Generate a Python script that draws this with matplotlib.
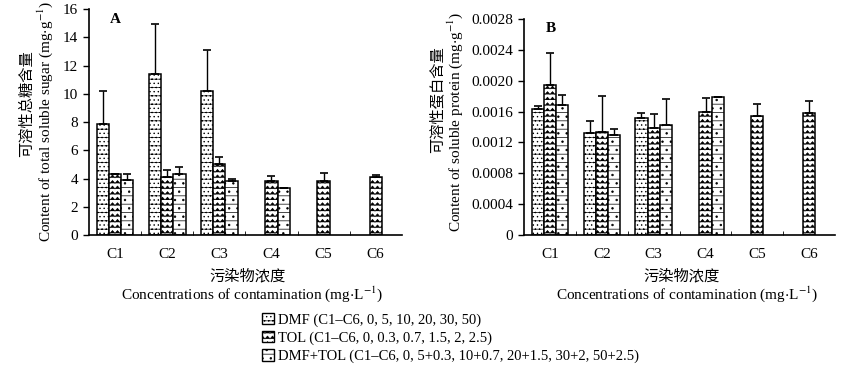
import numpy as np
import matplotlib
matplotlib.use("Agg")
import matplotlib.pyplot as plt
from matplotlib import hatch as mhatch
from matplotlib.path import Path
from matplotlib.patches import Patch
import warnings

warnings.filterwarnings("ignore")

# data (nan = no bar)
categories = ["C1", "C2", "C3", "C4", "C5", "C6"]
series = ["DMF (C1\u2013C6, 0, 5, 10, 20, 30, 50)",
          "TOL (C1\u2013C6, 0, 0.3, 0.7, 1.5, 2, 2.5)",
          "DMF+TOL (C1\u2013C6, 0, 5+0.3, 10+0.7, 20+1.5, 30+2, 50+2.5)"]
nan = np.nan

sugar_dmf = [7.83, 11.40, 10.19, nan, nan, nan]
sugar_dmf_err = [2.34, 3.54, 2.91, nan, nan, nan]
sugar_tol = [4.29, 4.13, 5.03, 3.80, 3.82, 4.10]
sugar_tol_err = [0.02, 0.50, 0.47, 0.35, 0.55, 0.18]
sugar_mix = [3.89, 4.29, 3.80, 3.35, nan, nan]
sugar_mix_err = [0.40, 0.52, 0.16, 0.0, nan, nan]

protein_dmf = [0.00163, 0.00132, 0.00152, nan, nan, nan]
protein_dmf_err = [0.00004, 0.00016, 0.00006, nan, nan, nan]
protein_tol = [0.00194, 0.00133, 0.00139, 0.00160, 0.00154, 0.00158]
protein_tol_err = [0.00042, 0.00047, 0.00018, 0.00018, 0.00016, 0.00016]
protein_mix = [0.00169, 0.00129, 0.00142, 0.00179, nan, nan]
protein_mix_err = [0.00013, 0.00008, 0.00034, 0.0, nan, nan]


# wavy (zigzag) hatch for the TOL bars
class ZigzagHatch(mhatch.HatchPatternBase):
    def __init__(self, hatch, density):
        self.num_rows = int(hatch.count('z') * density)
        self.num_pts = 41
        self.num_vertices = self.num_rows * self.num_pts

    def set_vertices_and_codes(self, vertices, codes):
        if self.num_rows == 0:
            return
        step = 1.0 / self.num_rows
        xs = np.linspace(0, 1, self.num_pts)
        ofs = np.where(np.arange(self.num_pts) % 2 == 0, 0.0, 0.5 * step)
        for r in range(self.num_rows):
            sl = slice(r * self.num_pts, (r + 1) * self.num_pts)
            vertices[sl, 0] = xs
            vertices[sl, 1] = r * step + ofs
            codes[sl] = Path.LINETO
            codes[r * self.num_pts] = Path.MOVETO


mhatch._hatch_types.append(ZigzagHatch)

plt.rcParams['font.family'] = ['Liberation Serif', 'Noto Sans CJK SC']
plt.rcParams['hatch.linewidth'] = 0.5
plt.rcParams['mathtext.fontset'] = 'stix'

hatches = ['--....', 'zzz', '--..']

fig = plt.figure(figsize=(8.5, 3.85), dpi=100)
axA = fig.add_axes([0.1047, 0.3896, 0.368, 0.587])
axB = fig.add_axes([0.6165, 0.3896, 0.366, 0.561])

x = np.arange(len(categories))
w = 0.235


def draw(ax, vals, errs, ymax, step, fmt):
    for i, (v, e) in enumerate(zip(vals, errs)):
        pos = x + (i - 1) * w
        ax.bar(pos, v, w, color='white', edgecolor='black', linewidth=1.1,
               hatch=hatches[i], zorder=2)
        ax.errorbar(pos, v, yerr=[np.zeros(len(e)), e], fmt='none',
                    ecolor='black', elinewidth=1.0, capsize=3, capthick=1.2, zorder=3)
    ax.set_xlim(-0.5, len(categories) - 0.5)
    ax.set_ylim(0, ymax)
    ax.set_yticks(np.arange(0, ymax + step / 2, step))
    ax.set_yticklabels([fmt(t) for t in np.arange(0, ymax + step / 2, step)], fontsize=11)
    ax.set_xticks(x)
    ax.set_xticklabels(categories, fontsize=11)
    ax.set_xticks(np.arange(0.5, len(categories) - 0.5, 1), minor=True)
    ax.tick_params(axis='x', which='major', length=0, pad=9)
    ax.tick_params(axis='x', which='minor', length=3, direction='in', width=0.6)
    ax.tick_params(axis='y', length=4, direction='out', width=1.0, pad=4)
    for s in ['top', 'right']:
        ax.spines[s].set_visible(False)
    ax.spines['left'].set_linewidth(1.2)
    ax.spines['bottom'].set_linewidth(1.2)


draw(axA, [sugar_dmf, sugar_tol, sugar_mix],
     [sugar_dmf_err, sugar_tol_err, sugar_mix_err], 16, 2, lambda t: f"{t:.0f}")
draw(axB, [protein_dmf, protein_tol, protein_mix],
     [protein_dmf_err, protein_tol_err, protein_mix_err], 0.0028, 0.0004,
     lambda t: "0" if t == 0 else f"{t:.4f}")

axA.text(0.085, 0.955, "A", transform=axA.transAxes, fontsize=11, fontweight='bold',
         ha='center', va='center')
axB.text(0.085, 0.955, "B", transform=axB.transAxes, fontsize=11, fontweight='bold',
         ha='center', va='center')

# axis titles (Chinese + English lines)
fig.text(27 / 850, 1 - 104 / 385, "可溶性总糖含量", rotation=90, fontsize=11,
         ha='center', va='center')
fig.text(45 / 850, 1 - 122 / 385, "Content of total soluble sugar (mg$\\cdot$g$^{-1}$)",
         rotation=90, fontsize=11, ha='center', va='center')
fig.text(437 / 850, 1 - 100 / 385, "可溶性蛋白含量", rotation=90, fontsize=11,
         ha='center', va='center')
fig.text(455 / 850, 1 - 122 / 385, "Content of soluble protein (mg$\\cdot$g$^{-1}$)",
         rotation=90, fontsize=11, ha='center', va='center')

fig.text(248 / 850, 1 - 276 / 385, "污染物浓度", fontsize=11, ha='center', va='center')
fig.text(252 / 850, 1 - 294 / 385, "Concentrations of contamination (mg$\\cdot$L$^{-1}$)",
         fontsize=11, ha='center', va='center')
fig.text(682 / 850, 1 - 276 / 385, "污染物浓度", fontsize=11, ha='center', va='center')
fig.text(687 / 850, 1 - 294 / 385, "Concentrations of contamination (mg$\\cdot$L$^{-1}$)",
         fontsize=11, ha='center', va='center')

handles = [Patch(facecolor='white', edgecolor='black', hatch=hatches[i], linewidth=1.0)
           for i in range(3)]
fig.legend(handles, series, loc='upper left', bbox_to_anchor=(262 / 850, 1 - 313 / 385),
           frameon=False, fontsize=10.5, handlelength=0.8, handleheight=0.8,
           handletextpad=0.3, labelspacing=0.3, borderpad=0, borderaxespad=0)

fig.savefig("out.png", dpi=100)
